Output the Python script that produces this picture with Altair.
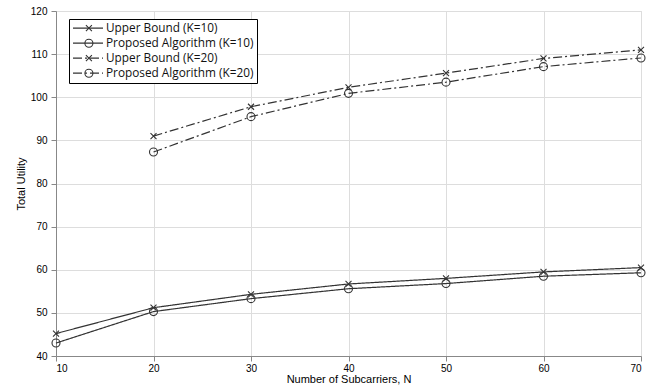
import altair as alt
import pandas as pd

N = [10, 20, 30, 40, 50, 60, 70]
N20 = [20, 30, 40, 50, 60, 70]
ub10 = [45.2, 51.2, 54.3, 56.7, 58.0, 59.5, 60.5]
pa10 = [43.0, 50.3, 53.3, 55.6, 56.8, 58.5, 59.3]
ub20 = [91.0, 97.8, 102.3, 105.6, 109.0, 111.0]
pa20 = [87.3, 95.5, 100.9, 103.5, 107.1, 109.1]

series_names = ["Upper Bound (K=10)", "Proposed Algorithm (K=10)",
                "Upper Bound (K=20)", "Proposed Algorithm (K=20)"]
marker_keys = ["1", "2", "3", "4"]

rows = []
for name, key, xs, ys in zip(series_names, marker_keys,
                             [N, N, N20, N20], [ub10, pa10, ub20, pa20]):
    for x, y in zip(xs, ys):
        rows.append({"N": x, "U": y, "series": name, "mk": key})
df = pd.DataFrame(rows)

FONT = "Open Sans"
LINE = "#333333"
XPATH = "M-0.75,-0.75L0.75,0.75M-0.75,0.75L0.75,-0.75"

x_enc = alt.X("N:Q", scale=alt.Scale(domain=[10, 70], nice=False),
              axis=alt.Axis(values=N, title="Number of Subcarriers, N",
                            titleFontSize=11, titleFontWeight="normal",
                            titlePadding=0, labelPadding=2))
y_enc = alt.Y("U:Q", scale=alt.Scale(domain=[40, 120], nice=False),
              axis=alt.Axis(values=[40, 50, 60, 70, 80, 90, 100, 110, 120],
                            title="Total Utility", titleFontSize=11,
                            titleFontWeight="normal", titlePadding=4,
                            labelPadding=4))

lines = alt.Chart(df).mark_line(color=LINE, strokeWidth=1.2).encode(
    x=x_enc, y=y_enc,
    strokeDash=alt.StrokeDash(
        "series:N",
        scale=alt.Scale(domain=series_names,
                        range=[[1, 0], [1, 0], [9, 3, 2, 3], [9, 3, 2, 3]]),
        legend=alt.Legend(orient="none", legendX=13, legendY=8, title=None,
                          symbolType="stroke", symbolSize=900, clipHeight=12.4,
                          rowPadding=2, padding=3, strokeColor="black",
                          fillColor="white", labelFont=FONT, labelFontSize=11.8,
                          labelColor="#111", symbolStrokeColor=LINE,
                          symbolStrokeWidth=1.2, labelOffset=2, zindex=1)),
)

points = alt.Chart(df).mark_point(filled=False, color=LINE, strokeWidth=1.1,
                                  size=64, opacity=1).encode(
    x="N:Q", y="U:Q",
    shape=alt.Shape(
        "mk:N",
        scale=alt.Scale(domain=marker_keys,
                        range=[XPATH, "circle", XPATH, "circle"]),
        legend=alt.Legend(orient="none", legendX=24, legendY=8, title=None,
                          symbolSize=64, clipHeight=12.4, rowPadding=2,
                          padding=3, labelOpacity=0, labelFontSize=11.8,
                          symbolStrokeColor=LINE, symbolStrokeWidth=1.1,
                          zindex=2)),
)

chart = alt.layer(lines, points).properties(
    width=585, height=345,
    padding={"left": 56, "top": 11, "right": 5, "bottom": 29},
    autosize=alt.AutoSizeParams(type="none"),
).configure_view(
    stroke="black", strokeWidth=1
).configure_axis(
    labelFont=FONT, titleFont=FONT, labelFontSize=12.3, labelColor="#222",
    titleColor="#222", domainColor="black", ticks=False, tickSize=0,
    grid=True, gridColor="#111", gridDash=[1.5, 3], gridOpacity=0.9,
    gridWidth=1,
).configure(background="white")

chart.save("out.html", embed_options={"renderer": "svg", "actions": False})
